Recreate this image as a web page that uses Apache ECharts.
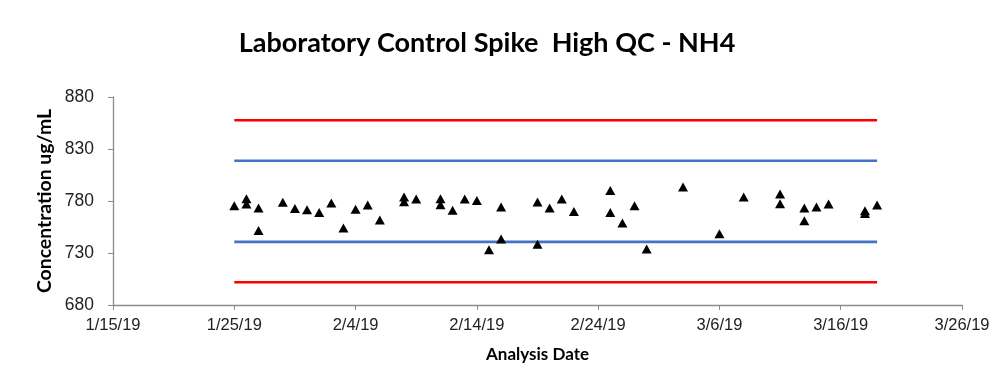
<!DOCTYPE html>
<html>
<head>
<meta charset="utf-8">
<script src="https://cdn.jsdelivr.net/npm/echarts@6/dist/echarts.min.js"></script>
<style>
  html, body { margin: 0; padding: 0; background: #fff; }
  #chart { width: 1008px; height: 388px; }
</style>
</head>
<body>
<div id="chart"></div>
<script>
// Analysis dates (one entry per QC measurement; repeated dates = two runs that day)
const analysisDates = [
  '2019-01-25', '2019-01-26', '2019-01-26', '2019-01-27', '2019-01-27',
  '2019-01-29', '2019-01-30', '2019-01-31', '2019-02-01', '2019-02-02',
  '2019-02-03', '2019-02-04', '2019-02-05', '2019-02-06', '2019-02-08',
  '2019-02-08', '2019-02-09', '2019-02-11', '2019-02-11', '2019-02-12',
  '2019-02-13', '2019-02-14', '2019-02-15', '2019-02-16', '2019-02-16',
  '2019-02-19', '2019-02-19', '2019-02-20', '2019-02-21', '2019-02-22',
  '2019-02-25', '2019-02-25', '2019-02-26', '2019-02-27', '2019-02-28',
  '2019-03-03', '2019-03-06', '2019-03-08', '2019-03-11', '2019-03-11',
  '2019-03-13', '2019-03-13', '2019-03-14', '2019-03-15', '2019-03-18',
  '2019-03-18', '2019-03-19'
];

// Measured NH4 high QC spike concentration (ug/mL)
const concentrations = [
  775.5, 782.2, 777.1, 773.3, 751.7,
  778.7, 772.9, 771.6, 769.0, 778.1,
  754.0, 772.0, 776.2, 761.7, 783.8,
  779.3, 781.9, 782.2, 776.4, 771.0,
  781.9, 780.6, 733.2, 774.2, 743.5,
  779.0, 738.3, 773.3, 781.9, 770.0,
  790.2, 769.0, 758.8, 775.5, 733.8,
  793.5, 748.6, 783.8, 786.7, 777.4,
  773.3, 761.1, 774.2, 777.1, 770.7,
  767.9, 776.2
];

// Control limits (ug/mL)
const upperControlLimit = 857.6;
const upperWarningLimit = 818.7;
const lowerWarningLimit = 740.7;
const lowerControlLimit = 701.9;

// Span of the limit lines
const limitStart = '2019-01-25';
const limitEnd = '2019-03-19';

// Axis range: x in days counted from the first tick date
const axisStartDate = '2019-01-15';
const xMaxDays = 70;
const xStepDays = 10;
const yMin = 680, yMax = 880, yStep = 50;

const DAY = 86400000;
const baseMs = Date.parse(axisStartDate + 'T00:00:00Z');
const toDays = s => Math.round((Date.parse(s + 'T00:00:00Z') - baseMs) / DAY);
const fmtDate = v => {
  const d = new Date(baseMs + v * DAY);
  return (d.getUTCMonth() + 1) + '/' + d.getUTCDate() + '/' + String(d.getUTCFullYear()).slice(2);
};

const points = analysisDates.map((d, i) => [toDays(d), concentrations[i]]);
const limitLine = v => [[toDays(limitStart), v], [toDays(limitEnd), v]];

const chart = echarts.init(document.getElementById('chart'), null, { renderer: 'canvas' });

const lineSeries = (name, v, color) => ({
  name, type: 'line', data: limitLine(v), symbol: 'none',
  lineStyle: { color, width: 2.6 }, silent: true, z: 1, animation: false
});

chart.setOption({
  animation: false,
  backgroundColor: '#ffffff',
  title: {
    text: 'Laboratory Control Spike  High QC - NH4',
    left: 482, top: 25, textAlign: 'center',
    textStyle: { fontFamily: 'Lato', fontWeight: 'bold', fontSize: 27, color: '#000' }
  },
  grid: { left: 113, right: 46, top: 97, bottom: 83, containLabel: false },
  xAxis: {
    type: 'value', min: 0, max: xMaxDays, interval: xStepDays,
    name: 'Analysis Date', nameLocation: 'middle', nameGap: 41,
    nameTextStyle: { fontFamily: 'Lato', fontWeight: 'bold', fontSize: 17, color: '#000' },
    axisLine: { show: true, lineStyle: { color: '#8c8c8c', width: 1.3 } },
    axisTick: { show: true, inside: false, length: 5, lineStyle: { color: '#8c8c8c' } },
    axisLabel: { formatter: fmtDate, fontFamily: 'Liberation Sans', fontSize: 16.5, color: '#222', margin: 12 },
    splitLine: { show: false }
  },
  yAxis: {
    type: 'value', min: yMin, max: yMax, interval: yStep,
    name: 'Concentration ug/mL', nameLocation: 'middle', nameGap: 58, nameRotate: 90,
    nameTextStyle: { fontFamily: 'Lato', fontWeight: 'bold', fontSize: 19.4, color: '#000' },
    axisLine: { show: true, lineStyle: { color: '#8c8c8c', width: 1.3 } },
    axisTick: { show: true, inside: false, length: 5, lineStyle: { color: '#8c8c8c' } },
    axisLabel: { fontFamily: 'Liberation Sans', fontSize: 17.5, color: '#222', margin: 19 },
    splitLine: { show: false }
  },
  series: [
    lineSeries('Upper control limit', upperControlLimit, '#ff0000'),
    lineSeries('Upper warning limit', upperWarningLimit, '#4472c4'),
    lineSeries('Lower warning limit', lowerWarningLimit, '#4472c4'),
    lineSeries('Lower control limit', lowerControlLimit, '#ff0000'),
    {
      name: 'NH4 high QC', type: 'scatter', data: points,
      symbol: 'triangle', symbolSize: [10, 9],
      itemStyle: { color: '#000000', opacity: 1 }, z: 3
    }
  ]
});
</script>
</body>
</html>
